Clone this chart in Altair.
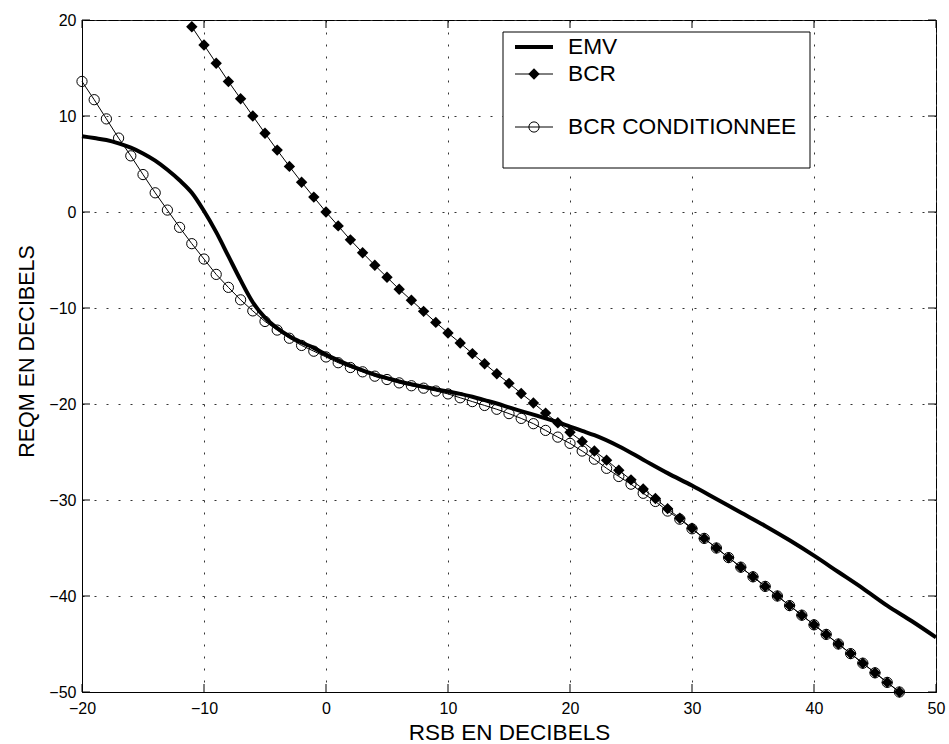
import altair as alt
import pandas as pd

# ---- data ----
snr_emv = list(range(-20, 22)) + [22, 24, 26, 28, 30, 32, 34, 36, 38, 40, 42, 44, 46, 48, 50]
emv = [7.9, 7.7, 7.5, 7.15, 6.7, 6.1, 5.35, 4.4, 3.3, 2.0,
       0.1, -2.1, -4.6, -7.1, -9.4, -11.0, -12.1, -12.95, -13.6, -14.15,
       -14.85, -15.45, -16.0, -16.5, -16.95, -17.3, -17.65, -17.95, -18.2, -18.45,
       -18.7, -18.95, -19.25, -19.6, -19.95, -20.35, -20.75, -21.1, -21.5, -21.9,
       -22.35, -22.8,
       -23.25, -24.4, -25.8, -27.2, -28.5, -29.9, -31.3, -32.7, -34.2, -35.8,
       -37.5, -39.2, -41.0, -42.6, -44.3]

snr_bcr = list(range(-11, 48))
bcr = [19.3, 17.4, 15.5, 13.6, 11.8, 10.0, 8.2, 6.45, 4.75, 3.1,
       1.55, 0.0, -1.45, -2.9, -4.25, -5.55, -6.8, -8.05, -9.2, -10.35,
       -11.5, -12.6, -13.65, -14.75, -15.8, -16.85, -17.85, -18.9, -19.9, -20.95,
       -21.95, -22.95, -23.9, -24.9, -25.85, -26.9, -27.9, -28.85, -29.85, -30.9,
       -31.9, -32.95, -34.0, -35.0, -36.0, -37.0, -38.0, -39.0, -40.0, -41.0,
       -42.0, -43.0, -44.0, -45.0, -46.0, -47.0, -48.0, -49.0, -50.0]

snr_cond = list(range(-20, 48))
bcr_cond = [13.6, 11.7, 9.7, 7.7, 5.85, 3.9, 2.0, 0.2, -1.6, -3.3,
            -4.9, -6.5, -7.85, -9.15, -10.3, -11.4, -12.3, -13.15, -13.9, -14.5,
            -15.1, -15.7, -16.2, -16.65, -17.1, -17.45, -17.8, -18.1, -18.35, -18.65,
            -18.95, -19.35, -19.75, -20.15, -20.55, -21.0, -21.5, -22.05, -22.75, -23.45,
            -24.1, -24.9, -25.75, -26.7, -27.55, -28.35, -29.3, -30.15, -31.15, -32.0,
            -33.0, -34.0, -35.0, -36.0, -37.0, -38.0, -39.0, -40.0, -41.0, -42.0,
            -43.0, -44.0, -45.0, -46.0, -47.0, -48.0, -49.0, -50.0]

x_ticks = [-20, -10, 0, 10, 20, 30, 40, 50]
y_ticks = [-50, -40, -30, -20, -10, 0, 10, 20]

series_names = ["EMV", "BCR", "BCR CONDITIONNEE"]
x_title = "RSB EN DECIBELS"
y_title = "REQM EN DECIBELS"

# ---- layout / style ----
W, H = 854, 672
FONT = "Liberation Sans"
TICK = 8

df_emv = pd.DataFrame({"snr": snr_emv, "val": emv})
df_bcr = pd.DataFrame({"snr": snr_bcr, "val": bcr})
df_cond = pd.DataFrame({"snr": snr_cond, "val": bcr_cond})
df_xt = pd.DataFrame({"snr": x_ticks})
df_yt = pd.DataFrame({"val": y_ticks})
one = pd.DataFrame({"k": [0]})

xs = alt.Scale(domain=[-20, 50], nice=False, zero=False)
ys = alt.Scale(domain=[-50, 20], nice=False, zero=False)

xaxis = alt.Axis(values=x_ticks, title=x_title, format="d", grid=True,
                 gridDash=[2, 10], gridColor="#333333", gridWidth=1,
                 tickSize=0, domainColor="black", domainWidth=1,
                 labelFont=FONT, labelFontSize=16, labelColor="black",
                 labelPadding=8, labelFlush=False,
                 titleFont=FONT, titleFontSize=22.5, titleFontWeight="normal",
                 titleColor="black", titleY=47, titleBaseline="alphabetic")
yaxis = alt.Axis(values=y_ticks, title=y_title, format="d", grid=True,
                 gridDash=[2, 10], gridColor="#333333", gridWidth=1,
                 tickSize=0, domainColor="black", domainWidth=1,
                 labelFont=FONT, labelFontSize=16, labelColor="black",
                 labelPadding=6, labelFlush=False,
                 titleFont=FONT, titleFontSize=21.5, titleFontWeight="normal",
                 titleColor="black", titleX=-49, titleY=331, titleAngle=270,
                 titleBaseline="alphabetic")

X = alt.X("snr:Q", scale=xs, axis=xaxis)
Y = alt.Y("val:Q", scale=ys, axis=yaxis)

emv_line = alt.Chart(df_emv).mark_line(color="black", strokeWidth=4,
                                       interpolate="monotone").encode(x=X, y=Y)
bcr_line = alt.Chart(df_bcr).mark_line(color="black", strokeWidth=1).encode(x=X, y=Y)
bcr_pts = alt.Chart(df_bcr).mark_point(shape="diamond", filled=True, color="black",
                                       size=130, opacity=1).encode(x=X, y=Y)
cond_line = alt.Chart(df_cond).mark_line(color="black", strokeWidth=1).encode(x=X, y=Y)
cond_pts = alt.Chart(df_cond).mark_point(shape="circle", filled=False, color="black",
                                         size=105, strokeWidth=1, opacity=1).encode(x=X, y=Y)

# inward ticks on all four sides
xt_bot = alt.Chart(df_xt).mark_rule(color="black", strokeWidth=1).encode(
    x=X, y=alt.value(H), y2=alt.value(H - TICK))
xt_top = alt.Chart(df_xt).mark_rule(color="black", strokeWidth=1).encode(
    x=X, y=alt.value(0), y2=alt.value(TICK))
yt_left = alt.Chart(df_yt).mark_rule(color="black", strokeWidth=1).encode(
    y=Y, x=alt.value(0), x2=alt.value(TICK))
yt_right = alt.Chart(df_yt).mark_rule(color="black", strokeWidth=1).encode(
    y=Y, x=alt.value(W - TICK), x2=alt.value(W))

# legend box
LX0, LX1, LY0, LY1 = 421, 728, 12, 148
SX0, SX1, SXM, TX = 433, 471, 452, 486
R1, R2, R3 = 27, 54, 107
leg_box = alt.Chart(one).mark_rect(fill="white", stroke="black", strokeWidth=1).encode(
    x=alt.value(LX0), x2=alt.value(LX1), y=alt.value(LY0), y2=alt.value(LY1))
leg_l1 = alt.Chart(one).mark_rule(color="black", strokeWidth=4).encode(
    x=alt.value(SX0), x2=alt.value(SX1), y=alt.value(R1))
leg_l2 = alt.Chart(one).mark_rule(color="black", strokeWidth=1).encode(
    x=alt.value(SX0), x2=alt.value(SX1), y=alt.value(R2))
leg_p2 = alt.Chart(one).mark_point(shape="diamond", filled=True, color="black",
                                   size=130, opacity=1).encode(x=alt.value(SXM), y=alt.value(R2))
leg_l3 = alt.Chart(one).mark_rule(color="black", strokeWidth=1).encode(
    x=alt.value(SX0), x2=alt.value(SX1), y=alt.value(R3))
leg_p3 = alt.Chart(one).mark_point(shape="circle", filled=False, color="black",
                                   size=105, strokeWidth=1, opacity=1).encode(
    x=alt.value(SXM), y=alt.value(R3))
leg_texts = [
    alt.Chart(one).mark_text(text=name, font=FONT, fontSize=22.7, align="left",
                             baseline="middle", color="black").encode(
        x=alt.value(TX), y=alt.value(ry))
    for name, ry in zip(series_names, [R1, R2, R3])
]

chart = alt.layer(
    emv_line, bcr_line, bcr_pts, cond_line, cond_pts,
    xt_bot, xt_top, yt_left, yt_right,
    leg_box, leg_l1, leg_l2, leg_p2, leg_l3, leg_p3, *leg_texts
).properties(
    width=W, height=H,
    autosize=alt.AutoSizeParams(type="none"),
    padding={"left": 82, "top": 20, "right": 13, "bottom": 52},
    background="white",
).configure_view(stroke="black", strokeWidth=1)

chart.save("out.html", embed_options={"renderer": "svg", "actions": False})
